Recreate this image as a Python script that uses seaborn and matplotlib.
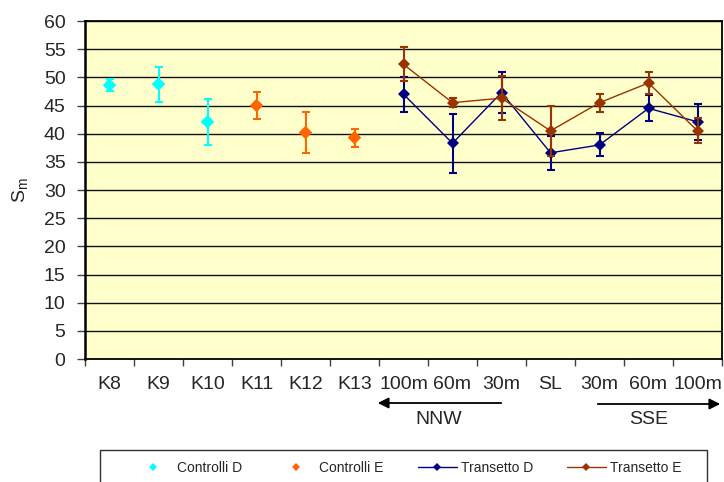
import matplotlib
matplotlib.use("Agg")
import matplotlib.pyplot as plt
import seaborn as sns
import pandas as pd
from matplotlib.lines import Line2D
from matplotlib.patches import Rectangle

# ---- data ----
categories = ['K8', 'K9', 'K10', 'K11', 'K12', 'K13',
              '100m', '60m', '30m', 'SL', '30m', '60m', '100m']

ctrl_d_idx = [0, 1, 2]
ctrl_d_vals = [48.6, 48.8, 42.1]
ctrl_d_err = [1.1, 3.1, 4.1]

ctrl_e_idx = [3, 4, 5]
ctrl_e_vals = [45.0, 40.2, 39.3]
ctrl_e_err = [2.35, 3.6, 1.6]

trans_idx = [6, 7, 8, 9, 10, 11, 12]
trans_d_vals = [47.0, 38.3, 47.3, 36.6, 38.0, 44.5, 42.1]
trans_d_err = [3.1, 5.2, 3.6, 3.0, 2.05, 2.3, 3.25]
trans_e_vals = [52.3, 45.5, 46.3, 40.5, 45.5, 49.0, 40.5]
trans_e_err = [3.0, 0.8, 3.9, 4.5, 1.6, 1.9, 2.2]

series_names = ['Controlli D', 'Controlli E', 'Transetto D', 'Transetto E']
colors = {'Controlli D': '#00FFFF', 'Controlli E': '#FF6600',
          'Transetto D': '#000080', 'Transetto E': '#993300'}

y_ticks = list(range(0, 61, 5))

# ---- frames ----
df_ctrl = pd.concat([
    pd.DataFrame({'pos': ctrl_d_idx, 'val': ctrl_d_vals, 'err': ctrl_d_err, 'series': 'Controlli D'}),
    pd.DataFrame({'pos': ctrl_e_idx, 'val': ctrl_e_vals, 'err': ctrl_e_err, 'series': 'Controlli E'}),
], ignore_index=True)
df_tr = pd.concat([
    pd.DataFrame({'pos': trans_idx, 'val': trans_d_vals, 'err': trans_d_err, 'series': 'Transetto D'}),
    pd.DataFrame({'pos': trans_idx, 'val': trans_e_vals, 'err': trans_e_err, 'series': 'Transetto E'}),
], ignore_index=True)

sns.set_style("white")
plt.rcParams['font.family'] = ['Liberation Sans', 'DejaVu Sans']
plt.rcParams['mathtext.fontset'] = 'custom'
plt.rcParams['mathtext.rm'] = 'Liberation Sans'
plt.rcParams['mathtext.it'] = 'Liberation Sans'

fig = plt.figure(figsize=(7.24, 4.82), dpi=100)
ax = fig.add_axes([85/724, 1 - 359/482, (722-85)/724, (359-21)/482])
ax.set_facecolor('#FFFFCC')

# gridlines
for yv in y_ticks[1:]:
    ax.axhline(yv, color='#101010', lw=1.0, zorder=0.5)

# error bars
for name, sub in list(df_ctrl.groupby('series')) + list(df_tr.groupby('series')):
    ax.errorbar(sub['pos'], sub['val'], yerr=sub['err'], fmt='none',
                ecolor=colors[name], elinewidth=1.5, capsize=3.2, capthick=1.5,
                zorder=2 if name != 'Transetto E' else 3)

# transect lines
sns.lineplot(data=df_tr[df_tr.series == 'Transetto D'], x='pos', y='val', color=colors['Transetto D'],
             marker='D', markersize=6.5, markeredgewidth=0, lw=1.0, ax=ax, legend=False, zorder=2.5)
sns.lineplot(data=df_tr[df_tr.series == 'Transetto E'], x='pos', y='val', color=colors['Transetto E'],
             marker='D', markersize=6.5, markeredgewidth=0, lw=1.0, ax=ax, legend=False, zorder=3.5)

# control points
sns.scatterplot(data=df_ctrl, x='pos', y='val', hue='series', palette=colors,
                marker='D', s=48, linewidth=0, ax=ax, legend=False, zorder=4)

ax.set_xlim(-0.5, len(categories) - 0.5)
ax.set_ylim(0, 60)
ax.set_yticks(y_ticks)
ax.set_yticklabels([str(v) for v in y_ticks], fontsize=14)
ax.set_xticks([i - 0.5 for i in range(len(categories) + 1)])
ax.set_xticklabels([])
ax.set_xticks(range(len(categories)), minor=True)
ax.set_xticklabels(categories, minor=True, fontsize=14)
ax.tick_params(axis='x', which='major', direction='out', length=5, width=1, color='#404040', bottom=True)
ax.tick_params(axis='x', which='minor', length=0, pad=12, bottom=True)
ax.tick_params(axis='y', direction='out', length=6, width=1, color='#404040', pad=8, left=True)
ax.set_xlabel('')
ax.set_ylabel(r'S$_{\mathrm{m}}$', fontsize=14, labelpad=10)
for sp in ax.spines.values():
    sp.set_color('black')
    sp.set_linewidth(1.3)
ax.spines['left'].set_linewidth(1.8)

# direction arrows
fig_h = 482
ax.annotate('', xy=(375, fig_h - 403), xytext=(504, fig_h - 403), xycoords='figure pixels',
            textcoords='figure pixels',
            arrowprops=dict(arrowstyle='-|>', color='black', lw=1.3, mutation_scale=16))
ax.annotate('', xy=(723, fig_h - 404), xytext=(595, fig_h - 404), xycoords='figure pixels',
            textcoords='figure pixels',
            arrowprops=dict(arrowstyle='-|>', color='black', lw=1.3, mutation_scale=16))
fig.text(439 / 724, 1 - 419.5 / 482, 'NNW', ha='center', va='center', fontsize=14)
fig.text(648.7 / 724, 1 - 419.5 / 482, 'SSE', ha='center', va='center', fontsize=14)

# legend
handles = [
    Line2D([], [], ls='none', marker='D', color=colors['Controlli D'], markersize=4.5, markeredgewidth=0),
    Line2D([], [], ls='none', marker='D', color=colors['Controlli E'], markersize=4.5, markeredgewidth=0),
    Line2D([], [], ls='-', lw=1.0, marker='D', color=colors['Transetto D'], markersize=4.5, markeredgewidth=0),
    Line2D([], [], ls='-', lw=1.0, marker='D', color=colors['Transetto E'], markersize=4.5, markeredgewidth=0),
]
fig.legend(handles, series_names, ncol=4, loc='center left',
           bbox_to_anchor=(134 / 724, 1 - 468 / 482), frameon=False, fontsize=10,
           handlelength=2.8, handletextpad=0.3, columnspacing=2.45, borderpad=0, borderaxespad=0)
fig.add_artist(Rectangle((100 / 724, -10 / 482), 607 / 724, 42 / 482, transform=fig.transFigure,
                         fill=False, edgecolor='#303030', lw=1.0, clip_on=False))

fig.savefig('out.png', dpi=100)
